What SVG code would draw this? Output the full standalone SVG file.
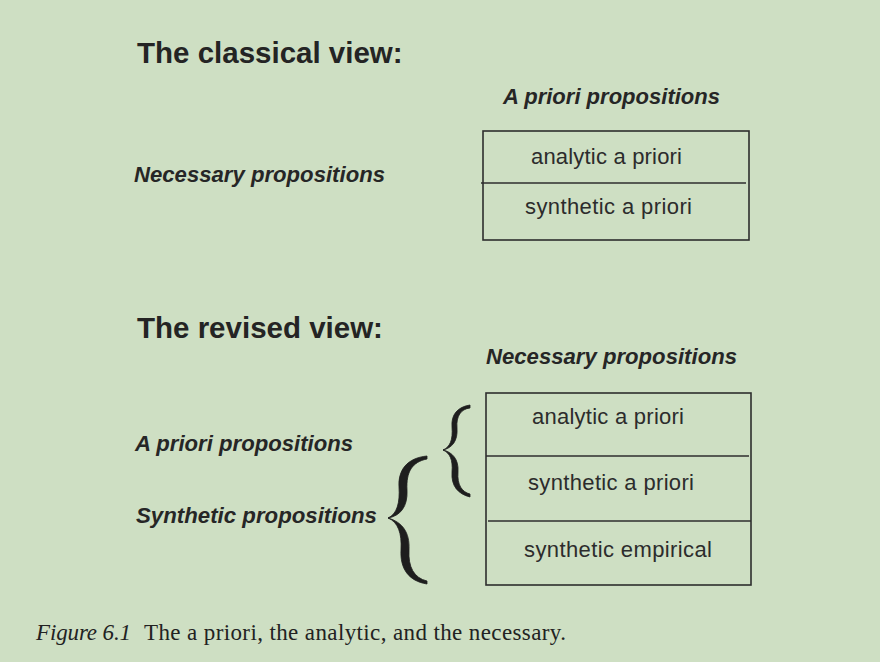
<svg xmlns="http://www.w3.org/2000/svg" width="880" height="662" viewBox="0 0 880 662">
<style>
.bg{fill:#cedfc3}
.title{font-family:"Liberation Sans",Arial,sans-serif;font-weight:bold;font-size:29.5px;fill:#242424}
.lab{font-family:"Liberation Sans",Arial,sans-serif;font-weight:bold;font-style:italic;font-size:22px;fill:#262626}
.cell{font-family:"Liberation Sans",Arial,sans-serif;font-size:22px;fill:#2c2c2c}
.box{fill:none;stroke:#2e2e2e;stroke-width:1.6}
.div{stroke:#2e2e2e;stroke-width:1.6}
.brace{fill:#1e1e1e;stroke:#1e1e1e;stroke-width:0.8;stroke-linejoin:round}
.cap{font-family:"Liberation Serif","Times New Roman",serif;font-size:23px;fill:#222}
</style>
<rect class="bg" x="0" y="0" width="880" height="662"/>

<g id="classical-title"><text class="title" x="137" y="63">The classical view:</text></g>
<g id="classical-apriori-label"><text class="lab" x="503" y="104" textLength="217" lengthAdjust="spacingAndGlyphs">A priori propositions</text></g>
<g id="classical-necessary-label"><text class="lab" x="134" y="182" textLength="251" lengthAdjust="spacingAndGlyphs">Necessary propositions</text></g>
<g id="classical-box">
<rect class="box" x="483" y="131" width="266" height="109"/>
<line class="div" x1="481" y1="183" x2="746" y2="183"/>
<text class="cell" x="531" y="164" textLength="151" lengthAdjust="spacing">analytic a priori</text>
<text class="cell" x="525" y="214" textLength="167" lengthAdjust="spacing">synthetic a priori</text>
</g>

<g id="revised-title"><text class="title" x="137" y="338">The revised view:</text></g>
<g id="revised-necessary-label"><text class="lab" x="486" y="364" textLength="251" lengthAdjust="spacingAndGlyphs">Necessary propositions</text></g>
<g id="revised-apriori-label"><text class="lab" x="135" y="451" textLength="218" lengthAdjust="spacingAndGlyphs">A priori propositions</text></g>
<g id="revised-synthetic-label"><text class="lab" x="136" y="523" textLength="241" lengthAdjust="spacingAndGlyphs">Synthetic propositions</text></g>
<g id="revised-box">
<rect class="box" x="486" y="393" width="265" height="192"/>
<line class="div" x1="486" y1="456" x2="749" y2="456"/>
<line class="div" x1="488" y1="521" x2="751" y2="521"/>
<text class="cell" x="532" y="424" textLength="152" lengthAdjust="spacing">analytic a priori</text>
<text class="cell" x="528" y="490" textLength="166" lengthAdjust="spacing">synthetic a priori</text>
<text class="cell" x="524" y="557" textLength="188" lengthAdjust="spacing">synthetic empirical</text>
</g>

<g id="connectors">
<path class="brace" d="M470,405 C457,407 451,415 452,427 C453,440 450,447 443,450 C452,448 458,441 457,428 C456,416 461,409 470,408 Z"/>
<path class="brace" d="M443,450 C450,453 453,460 452,472 C451,486 458,494 470,497 L470,494 C462,492 457,485 458,472 C459,459 452,452 443,450 Z"/>
<path class="brace" d="M427,456 C407,458 398,470 399,487 C400,503 397,514 388,518 C400,516 408,507 407,490 C406,472 412,462 427,459 Z"/>
<path class="brace" d="M388,518 C398,522 402,533 401,550 C400,568 408,581 427,584 L427,581 C414,578 408,567 409,550 C410,532 402,522 388,518 Z"/>
</g>

<g id="caption">
<text class="cap" x="36" y="640" font-style="italic" textLength="95" lengthAdjust="spacing">Figure 6.1</text>
<text class="cap" x="144" y="640" textLength="422" lengthAdjust="spacing">The a priori, the analytic, and the necessary.</text>
</g>
</svg>
